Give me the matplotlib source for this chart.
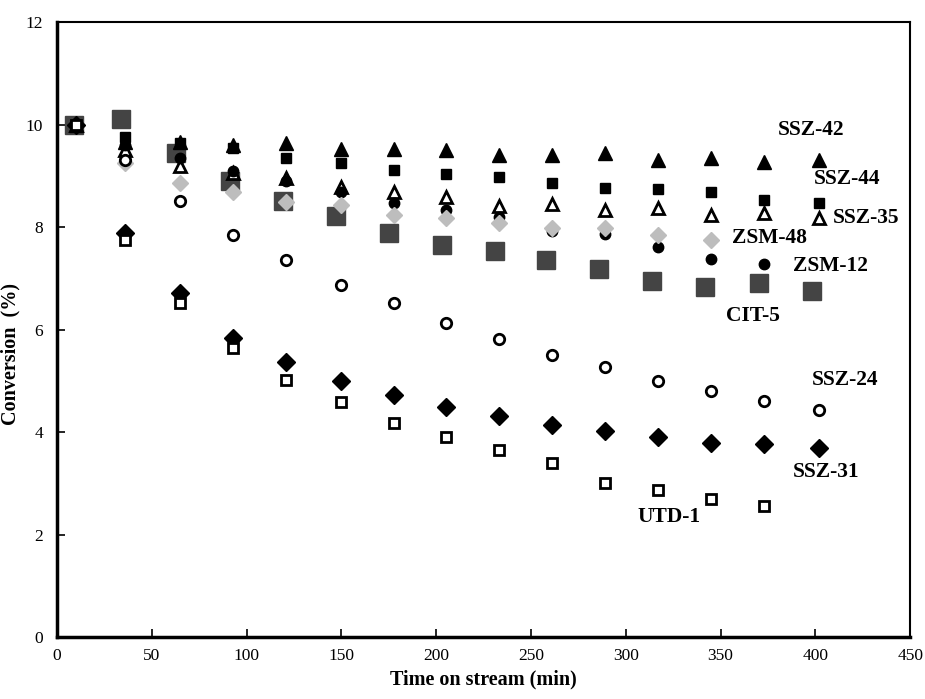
import matplotlib
matplotlib.use('Agg')
import matplotlib.pyplot as plt

# time on stream (min)
times = [10, 36, 65, 93, 121, 150, 178, 205, 233, 261, 289, 317, 345, 373, 402]
cit5_times = [9, 34, 63, 91, 119, 147, 175, 203, 231, 258, 286, 314, 342, 370, 398]

# conversion (%)
ssz42 = [10.0, 9.65, 9.66, 9.6, 9.63, 9.52, 9.52, 9.5, 9.4, 9.4, 9.44, 9.31, 9.35, 9.27, 9.3]
ssz44 = [10.0, 9.76, 9.64, 9.55, 9.35, 9.25, 9.11, 9.03, 8.98, 8.86, 8.76, 8.74, 8.68, 8.53, 8.47]
ssz35 = [10.0, 9.5, 9.2, 9.05, 8.95, 8.78, 8.68, 8.59, 8.41, 8.45, 8.33, 8.37, 8.23, 8.27, 8.17]
zsm12 = [10.0, 9.6, 9.35, 9.1, 8.9, 8.68, 8.47, 8.33, 8.2, 7.93, 7.87, 7.61, 7.38, 7.28]
zsm48 = [10.0, 9.25, 8.86, 8.68, 8.49, 8.43, 8.23, 8.18, 8.08, 7.98, 7.98, 7.84, 7.75]
cit5 = [10.0, 10.1, 9.44, 8.9, 8.5, 8.21, 7.88, 7.65, 7.53, 7.36, 7.18, 6.95, 6.83, 6.91, 6.75]
ssz24 = [10.0, 9.3, 8.5, 7.84, 7.36, 6.87, 6.52, 6.12, 5.81, 5.5, 5.27, 5.0, 4.8, 4.6, 4.43]
ssz31 = [10.0, 7.88, 6.72, 5.83, 5.37, 5.0, 4.72, 4.49, 4.31, 4.14, 4.02, 3.9, 3.79, 3.76, 3.69]
utd1 = [10.0, 7.75, 6.52, 5.64, 5.01, 4.59, 4.18, 3.9, 3.65, 3.39, 3.0, 2.87, 2.69, 2.56]

labels = ['SSZ-42', 'SSZ-44', 'SSZ-35', 'ZSM-48', 'ZSM-12', 'CIT-5', 'SSZ-24', 'SSZ-31', 'UTD-1']
label_x = [380, 399, 409, 356, 388, 353, 398, 388, 306]
label_y = [9.9, 8.94, 8.18, 7.79, 7.24, 6.26, 5.01, 3.22, 2.34]

serif = ['Liberation Serif', 'DejaVu Serif']

fig = plt.figure(figsize=(9.25, 6.99), dpi=100)
ax = fig.add_axes([0.0616, 0.0887, 0.9224, 0.8798])

ax.plot(cit5_times, cit5, 's', ms=13, color='#444444', mec='#444444', ls='none')
ax.plot(times, ssz42, '^', ms=10, color='black', ls='none')
ax.plot(times, ssz44, 's', ms=7.5, color='black', ls='none')
ax.plot(times, ssz35, '^', ms=8.5, mfc='white', mec='black', mew=2, ls='none')
ax.plot(times[:len(zsm12)], zsm12, 'o', ms=7.5, color='black', ls='none')
ax.plot(times[:len(zsm48)], zsm48, 'D', ms=8.5, color='#bdbdbd', mec='#bdbdbd', ls='none')
ax.plot(times, ssz24, 'o', ms=7.5, mfc='white', mec='black', mew=2, ls='none')
ax.plot(times, ssz31, 'D', ms=9, color='black', ls='none')
ax.plot(times[:len(utd1)], utd1, 's', ms=7.5, mfc='white', mec='black', mew=2, ls='none')

for lab, lx, ly in zip(labels, label_x, label_y):
  ax.text(lx, ly, lab, fontsize=15.5, fontweight='bold', family=serif, va='center', ha='left')

ax.set_xlim(0, 450)
ax.set_ylim(0, 12)
ax.set_xticks(range(0, 451, 50))
ax.set_yticks(range(0, 13, 2))
ax.tick_params(direction='in', length=6, width=1.2, labelsize=12.5)
for lbl in ax.get_xticklabels() + ax.get_yticklabels():
  lbl.set_family(serif)
ax.tick_params(axis='x', pad=8)
ax.tick_params(axis='y', pad=10)

ax.spines['left'].set_linewidth(2.5)
ax.spines['bottom'].set_linewidth(2.5)
ax.spines['top'].set_linewidth(1.5)
ax.spines['right'].set_linewidth(1.5)

ax.set_xlabel('Time on stream (min)', fontsize=14.5, fontweight='bold', family=serif, labelpad=4)
ax.set_ylabel('Conversion  (%)', fontsize=14.5, fontweight='bold', family=serif)
ax.yaxis.set_label_coords(-0.043, 0.46)

fig.savefig('out.png', dpi=100)
